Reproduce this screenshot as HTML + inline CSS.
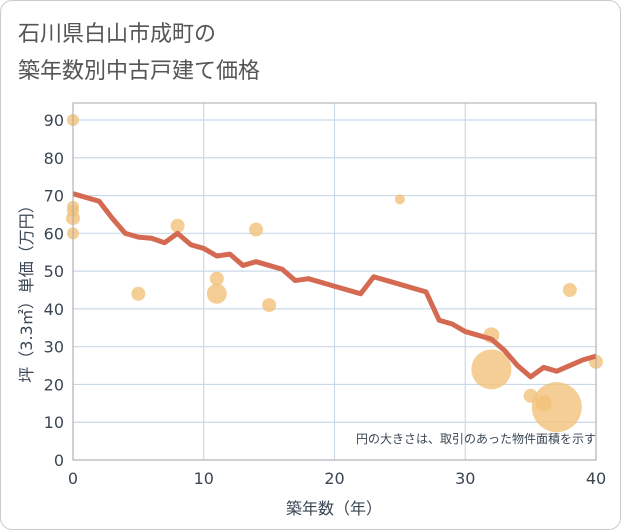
<!DOCTYPE html>
<html><head><meta charset="utf-8"><style>
body{margin:0;background:#fff;font-family:"DejaVu Sans","Noto Sans CJK JP",sans-serif}
#card{position:absolute;left:0;top:0;width:619px;height:528px;border:1px solid #ccc;border-radius:12px;background:#fff}
</style></head><body>
<div id="card">
<svg width="621" height="530" style="position:absolute;left:-1px;top:-1px">
<text x="18" y="41" font-size="22" fill="#555">石川県白山市成町の</text>
<text x="18" y="78" font-size="22" fill="#555">築年数別中古戸建て価格</text>
<g id="grid"></g><g id="bubbles"></g><g id="line"></g><g id="axes"></g>
<text x="596" y="443" font-size="12" fill="#3a4654" text-anchor="end">円の大きさは、取引のあった物件面積を示す</text>
<text x="334" y="514" font-size="16" fill="#3a4654" text-anchor="middle">築年数（年）</text>
<text transform="translate(32,290) rotate(-90)" font-size="16" fill="#3a4654" text-anchor="middle">坪（3.3㎡）単価（万円）</text>
</svg></div>
<script>
const xTicks=[0,10,20,30,40];
const yTicks=[0,10,20,30,40,50,60,70,80,90];
const lineX=[0,1,2,3,4,5,6,7,8,9,10,11,12,13,14,15,16,17,18,19,20,21,22,23,24,25,26,27,28,29,30,31,32,33,34,35,36,37,38,39,40];
const lineY=[70.5,69.5,68.5,64,60,59,58.7,57.5,60,57,56,54,54.5,51.5,52.5,51.5,50.5,47.5,48,47,46,45,44,48.5,47.5,46.5,45.5,44.5,37,36,34,33,32,29,25,22,24.5,23.5,25,26.5,27.5];
const bubX=[0,0,0,0,0,5,8,11,11,14,15,25,32,32,35,36,37,38,40];
const bubY=[90,67,66,64,60,44,62,48,44,61,41,69,33,24,17,15,14,45,26];
const bubR=[6,6,6,7,6,7,7,7,10,7,7,5,8,20,7,8,25,7,7];
const NS="http://www.w3.org/2000/svg";
const X=v=>73+v*(596-73)/40, Y=v=>460-v*(340/90);
function mk(p,t,a){const e=document.createElementNS(NS,t);for(const k in a)e.setAttribute(k,a[k]);document.getElementById(p).appendChild(e);return e;}
yTicks.forEach(t=>{const e=mk('grid','line',{x1:73,x2:596,y1:Y(t),y2:Y(t),stroke:'#c9d9ea','stroke-width':1.2});

const l=mk('axes','text',{x:64,y:Y(t)+6,'font-size':16,fill:'#3a4654','text-anchor':'end'});l.textContent=t;
});
xTicks.forEach(t=>{const e=mk('grid','line',{x1:X(t),x2:X(t),y1:103,y2:460,stroke:'#c9d9ea','stroke-width':1.2});

const l=mk('axes','text',{x:X(t),y:484,'font-size':16,fill:'#3a4654','text-anchor':'middle'});l.textContent=t;
});
let b=mk('axes','rect',{x:73,y:103,width:523,height:357,fill:'none',stroke:'#aaa','stroke-width':1});

bubX.forEach((v,i)=>{const c=mk('bubbles','circle',{cx:X(v),cy:Y(bubY[i]),r:bubR[i],fill:'#f2c27a','fill-opacity':0.8});
});
const p=mk('line','polyline',{points:lineX.map((v,i)=>X(v)+','+Y(lineY[i])).join(' '),fill:'none',stroke:'#d46a52','stroke-width':5,'stroke-linejoin':'round'});

</script></body></html>
